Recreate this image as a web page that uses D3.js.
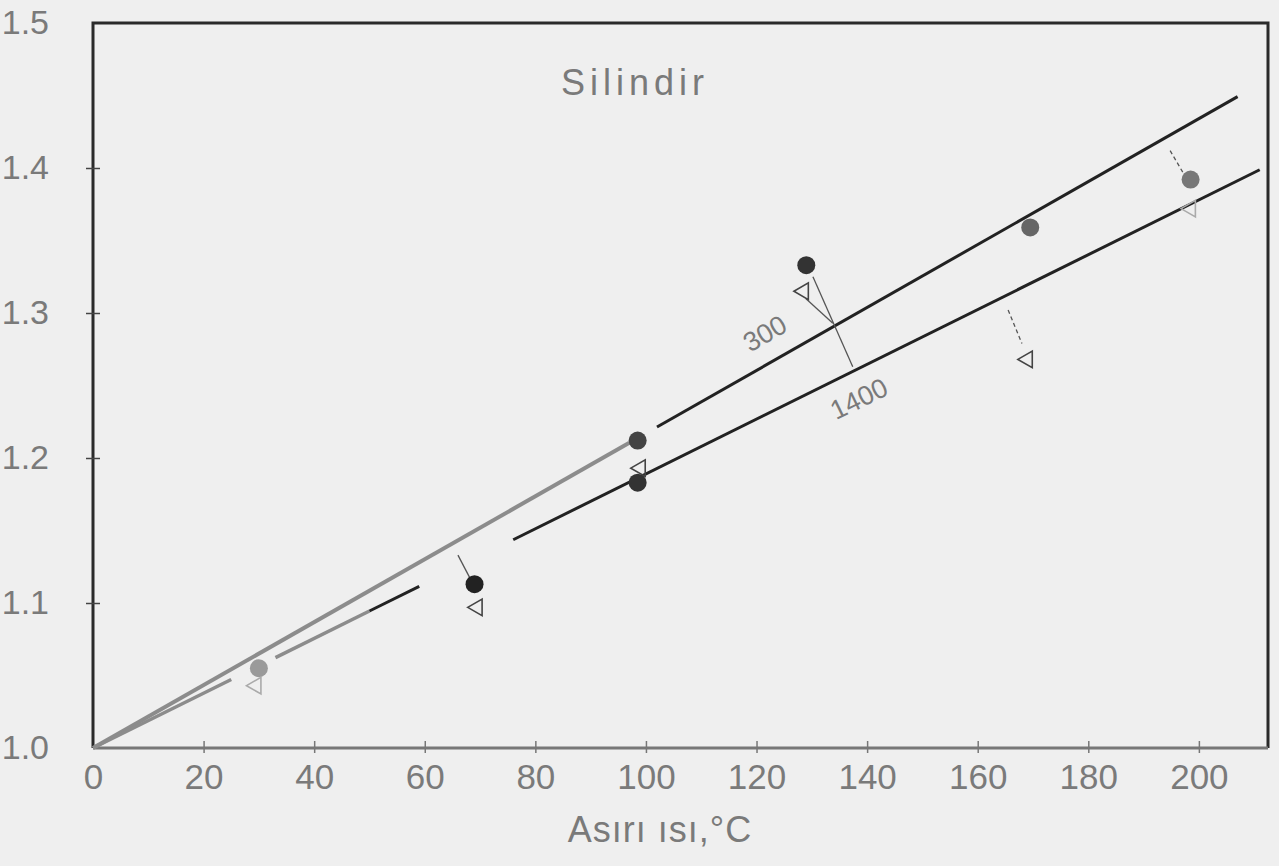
<!DOCTYPE html>
<html>
<head>
<meta charset="utf-8">
<script src="https://cdn.jsdelivr.net/npm/d3@7"></script>
<style>
  html, body { margin: 0; padding: 0; background: #efefef; }
  text { font-family: "Liberation Sans Narrow", "Liberation Sans", "DejaVu Sans", sans-serif; fill: #7a7a7a; }
</style>
</head>
<body>
<div id="chart-area"></div>
<script>
/*
*    Silindir - Asırı ısı plot
*/

var W = 1279, H = 866;

// data
var xTicks = [0, 20, 40, 60, 80, 100, 120, 140, 160, 180, 200];
var yTicks = [1.0, 1.1, 1.2, 1.3, 1.4, 1.5];

var dotX = [30, 69, 98.5, 98.5, 129, 169.5, 198.5];
var dotY = [1.055, 1.113, 1.212, 1.183, 1.333, 1.359, 1.392];

var triX = [29.5, 69.5, 99, 128.5, 169, 198.5];
var triY = [1.043, 1.097, 1.193, 1.315, 1.268, 1.372];

// fitted lines (slope through the origin at 1.0)
var lineNames = ["300", "1400"];
var lineSlope = [0.00217, 0.00189];
// drawn pieces of each line [from, to]
var upperGrey = [[0, 97]];
var upperBlack = [[102, 207]];
var lowerGrey = [[0, 25], [33, 50]];
var lowerBlack = [[50, 59], [76, 211]];

// where the line names sit [x, y]
var nameAt = [[121.5, 1.286], [138.5, 1.241]];
var nameAngle = [-30, -26];

// thin leader lines [x1, y1, x2, y2]
var leaders = [
  [66.0, 1.133, 68.2, 1.117],
  [130.2, 1.325, 137.4, 1.263],
  [128.9, 1.310, 133.8, 1.293],
  [165.5, 1.302, 168.0, 1.279],
  [194.8, 1.412, 197.1, 1.397]
];

// shades of the scanned dots
var dotShade = ["#9a9a9a", "#222", "#444", "#333", "#333", "#666", "#777"];

var xScale = d3.scaleLinear().domain([0, 212.5]).range([93, 1268]);
var yScale = d3.scaleLinear().domain([1.0, 1.5]).range([748, 23]);

var svg = d3.select("#chart-area")
    .append("svg")
    .attr("width", W)
    .attr("height", H);

svg.append("rect").attr("width", W).attr("height", H).attr("fill", "#efefef");

// frame
svg.append("path")
    .attr("d", "M" + xScale(0) + "," + yScale(1.0) + "V" + yScale(1.5) + "H" + xScale(212.5) + "V" + yScale(1.0))
    .attr("fill", "none")
    .attr("stroke", "#2a2a2a")
    .attr("stroke-width", 3);
svg.append("line")
    .attr("x1", xScale(0)).attr("x2", xScale(212.5))
    .attr("y1", yScale(1.0)).attr("y2", yScale(1.0))
    .attr("stroke", "#777").attr("stroke-width", 3);

// x axis
var bottomAxis = d3.axisBottom(xScale)
    .tickValues(xTicks)
    .tickSize(6)
    .tickPadding(10)
    .tickFormat(d3.format("d"));
var gx = svg.append("g")
    .attr("transform", "translate(0," + yScale(1.0) + ")")
    .call(bottomAxis);
gx.select(".domain").remove();
gx.selectAll(".tick line").attr("y1", -7).attr("y2", 5).attr("stroke", "#777").attr("stroke-width", 1.5);
gx.selectAll(".tick text")
    .attr("font-size", "35px")
    .style("font-family", "'Liberation Sans Narrow', 'Liberation Sans', sans-serif")
    .attr("fill", "#7a7a7a");
gx.selectAll(".tick").filter(function(d){ return d === 0; }).select("text").attr("fill", "#444");
gx.selectAll(".tick").filter(function(d){ return d === 0; }).select("line").remove();

// y axis
var leftAxis = d3.axisLeft(yScale)
    .tickValues(yTicks)
    .tickSize(6)
    .tickPadding(38)
    .tickFormat(d3.format(".1f"));
var gy = svg.append("g")
    .attr("transform", "translate(" + xScale(0) + ",0)")
    .call(leftAxis);
gy.select(".domain").remove();
gy.selectAll(".tick line").attr("x1", -7).attr("x2", 7).attr("stroke", "#444").attr("stroke-width", 1.5);
gy.selectAll(".tick").filter(function(d){ return d === 1.0 || d === 1.5; }).select("line").remove();
gy.selectAll(".tick text")
    .attr("font-size", "34px")
    .attr("dy", "0.3em")
    .style("font-family", "'Liberation Sans Narrow', 'Liberation Sans', sans-serif")
    .attr("fill", "#8a8a8a");

// axis title and chart title
svg.append("text")
    .attr("x", 660)
    .attr("y", 842)
    .attr("font-size", "36px")
    .attr("letter-spacing", "1px")
    .attr("text-anchor", "middle")
    .attr("fill", "#777")
    .text("Asırı ısı,°C");

svg.append("text")
    .attr("x", 635)
    .attr("y", 95)
    .attr("font-size", "36px")
    .attr("letter-spacing", "5px")
    .attr("text-anchor", "middle")
    .attr("fill", "#8a8a8a")
    .text("Silindir");

// fitted lines
function seg(slope, piece) {
  return [[piece[0], 1 + slope * piece[0]], [piece[1], 1 + slope * piece[1]]];
}
var lineGen = d3.line().x(d => xScale(d[0])).y(d => yScale(d[1]));

upperGrey.forEach(p => {
  svg.append("path").attr("d", lineGen(seg(lineSlope[0], p)))
     .attr("stroke", "#8c8c8c").attr("stroke-width", 4).attr("fill", "none");
});
upperBlack.forEach(p => {
  svg.append("path").attr("d", lineGen(seg(lineSlope[0], p)))
     .attr("stroke", "#222").attr("stroke-width", 3).attr("fill", "none");
});
lowerGrey.forEach(p => {
  svg.append("path").attr("d", lineGen(seg(lineSlope[1], p)))
     .attr("stroke", "#8c8c8c").attr("stroke-width", 3.5).attr("fill", "none");
});
lowerBlack.forEach(p => {
  svg.append("path").attr("d", lineGen(seg(lineSlope[1], p)))
     .attr("stroke", "#222").attr("stroke-width", 3).attr("fill", "none");
});

// leaders
svg.selectAll("line.leader")
    .data(leaders)
  .enter().append("line")
    .attr("class", "leader")
    .attr("x1", d => xScale(d[0])).attr("y1", d => yScale(d[1]))
    .attr("x2", d => xScale(d[2])).attr("y2", d => yScale(d[3]))
    .attr("stroke", "#555")
    .attr("stroke-width", 1.3)
    .attr("stroke-dasharray", (d, i) => i >= 3 ? "4,3" : null);

// line names, rotated with their lines
lineNames.forEach((name, i) => {
  svg.append("text")
      .attr("transform", "translate(" + xScale(nameAt[i][0]) + "," + yScale(nameAt[i][1]) + ") rotate(" + nameAngle[i] + ")")
      .attr("font-size", "27px")
      .attr("dy", "0.35em")
      .attr("text-anchor", "middle")
      .attr("fill", "#666")
      .text(name);
});

// points
var dots = dotX.map((x, i) => ({ x: x, y: dotY[i], c: dotShade[i] }));
svg.selectAll("circle.dot")
    .data(dots)
  .enter().append("circle")
    .attr("class", "dot")
    .attr("cx", d => xScale(d.x))
    .attr("cy", d => yScale(d.y))
    .attr("r", 9)
    .attr("fill", d => d.c);

var tris = triX.map((x, i) => ({ x: x, y: triY[i] }));
var triSym = d3.symbol().type(d3.symbolTriangle).size(120);
svg.selectAll("path.tri")
    .data(tris)
  .enter().append("path")
    .attr("class", "tri")
    .attr("d", triSym)
    .attr("transform", d => "translate(" + xScale(d.x) + "," + yScale(d.y) + ") rotate(-90)")
    .attr("fill", "none")
    .attr("stroke", (d, i) => i === 0 || i === 5 ? "#aaa" : "#444")
    .attr("stroke-width", 1.6);
</script>
</body>
</html>
